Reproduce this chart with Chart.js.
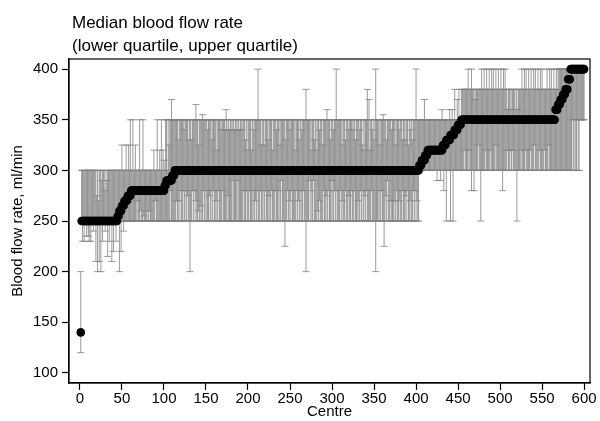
<!DOCTYPE html>
<html>
<head>
<meta charset="utf-8">
<script src="https://cdn.jsdelivr.net/npm/chart.js@4/dist/chart.umd.min.js"></script>
<style>
  body { margin: 0; background: #fff; }
  #wrap { position: relative; width: 600px; height: 421px; }
  #titulo {
    position: absolute; left: 72px; top: 11px;
    font: 17px "Liberation Sans", Arial, sans-serif; line-height: 23px; color: #000;
  }
</style>
</head>
<body>
<div id="wrap">
  <canvas id="grafico"></canvas>
  <div id="titulo">Median blood flow rate<br>(lower quartile, upper quartile)</div>
</div>
<script>
// Centros ordenados por mediana (1..600)
var numCentros = 600;

// Mediana: pares [valor, número de centros consecutivos]
var medianaTramos = [
  [140, 1], [250, 43],
  [255, 2], [260, 3], [265, 3], [270, 4], [275, 4],
  [280, 40],
  [285, 2], [290, 7], [295, 3],
  [300, 291],
  [305, 3], [310, 4], [315, 3],
  [320, 18],
  [325, 4], [330, 5], [335, 5], [340, 4], [345, 4],
  [350, 112],
  [360, 3], [365, 3], [370, 3], [375, 3], [380, 3], [390, 3],
  [400, 17]
];

// Cuartil inferior / superior: tramos base
var inferiorTramos = [[120, 1], [250, 402], [300, 197]];
var superiorTramos = [[200, 1], [300, 100], [350, 352], [380, 112], [400, 35]];

// Excepciones: [centro, valor]
var inferiorExcepciones = [
  [3,230],[5,230],[8,235],[10,235],[11,230],[13,230],[16,240],[19,210],[21,200],[23,210],
  [25,200],[27,230],[30,240],[33,215],[35,230],[38,210],[40,220],[43,230],[47,200],[49,220],
  [52,240],[68,270],[72,260],[76,255],[80,260],[83,260],[90,270],[108,280],
  [115,270],[118,270],[120,280],[123,280],[126,280],[128,275],[131,200],[134,280],[136,280],
  [138,270],[141,260],[144,265],[147,280],[150,280],[154,275],[157,280],[159,280],[162,270],
  [165,280],[170,280],[176,275],[182,290],[188,290],[195,280],[198,280],[202,280],[206,280],
  [209,270],[211,280],[215,280],[218,280],[221,280],[225,275],[228,280],[233,280],[237,280],
  [240,290],[244,225],[247,280],[250,270],[252,280],[258,280],[260,270],[263,280],[266,280],
  [269,200],[273,290],[275,280],[278,290],[283,260],[285,270],[290,280],[293,275],[296,280],
  [300,290],[303,280],[305,280],[310,280],[312,270],[316,280],[320,275],[323,280],[327,280],
  [331,270],[334,280],[336,280],[339,275],[341,280],[347,280],[352,200],[356,280],[359,280],
  [362,225],[364,275],[366,290],[370,270],[374,270],[377,280],[380,270],[384,280],[388,275],
  [390,280],[393,270],[397,280],[399,280],[401,270],
  [425,290],[429,290],[433,280],[436,250],[441,250],[444,250],
  [458,320],[463,320],[466,280],[469,280],[474,325],[477,250],[483,320],[489,320],[495,325],
  [503,280],[509,320],[512,320],[515,320],[520,250],[525,320],[530,320],[536,320],[541,325],
  [547,320],[553,320],[558,325],
  [586,350],[589,350],[592,350],[595,350],[596,350],[597,350],[598,350],[599,350],[600,350]
];
var superiorExcepciones = [
  [20,275],[22,270],[26,290],[30,280],[32,290],
  [50,325],[55,325],[58,325],[60,350],[63,350],[66,325],[71,350],[75,350],[88,320],[92,350],
  [95,320],[97,350],[99,320],[100,310],
  [101,300],[104,300],[106,325],[109,370],
  [117,330],[124,340],[129,330],[133,330],[138,365],[141,325],[146,355],[152,340],[157,330],
  [163,320],[168,340],[173,340],[174,360],[176,340],[178,340],[181,340],[184,340],[187,340],
  [190,340],[193,340],[197,330],[199,320],[204,320],[207,340],[212,400],[216,325],[220,325],
  [224,330],[229,320],[234,340],[238,325],[245,330],[250,340],[256,320],[261,330],[264,340],
  [269,380],[275,320],[279,330],[282,320],[285,340],[289,325],[294,360],[298,330],[302,340],
  [305,400],[312,325],[316,330],[320,340],[325,340],[328,330],[333,340],[336,325],[338,320],
  [342,380],[344,370],[345,320],[348,340],[350,330],[352,400],[357,325],[361,355],[365,330],
  [371,340],[376,325],[380,340],[384,330],[387,330],[391,325],[393,340],[396,330],[400,400],
  [410,370],[431,360],[440,360],[443,360],[446,380],[449,370],[451,380],
  [462,400],[466,400],[470,370],[478,400],[481,400],[484,400],[487,400],[490,400],[492,400],
  [495,400],[498,400],[501,400],[504,400],[506,400],[509,360],[513,360],[518,360],[521,360],
  [526,400],[529,400],[531,400],[534,400],[537,400],[540,400],[542,400],[545,400],[548,400],
  [550,400],[556,400],[559,400],[561,400],[564,400],
  [566,380],[568,380]
];

var marcasX = [0, 50, 100, 150, 200, 250, 300, 350, 400, 450, 500, 550, 600];
var marcasY = [100, 150, 200, 250, 300, 350, 400];

// Expande tramos a un valor por centro
function expandir(tramos) {
  var r = [];
  tramos.forEach(function (t) { for (var k = 0; k < t[1]; k++) r.push(t[0]); });
  return r.slice(0, numCentros);
}
function aplicar(valores, excepciones) {
  excepciones.forEach(function (e) { valores[e[0] - 1] = e[1]; });
  return valores;
}

var centros = [];
for (var i = 1; i <= numCentros; i++) centros.push(i);
var mediana = expandir(medianaTramos);
var cuartilInf = aplicar(expandir(inferiorTramos), inferiorExcepciones);
var cuartilSup = aplicar(expandir(superiorTramos), superiorExcepciones);

var fuente = { family: '"Liberation Sans", Arial, sans-serif', size: 15 };

// Barras de error (cuartiles) dibujadas con las escalas del gráfico
var barrasError = {
  id: 'barrasError',
  beforeDatasetsDraw: function (chart) {
    var ctx = chart.ctx, x = chart.scales.x, y = chart.scales.y;
    ctx.save();
    ctx.strokeStyle = 'rgb(128,128,128)';
    ctx.lineWidth = 0.8;
    ctx.beginPath();
    for (var i = 0; i < centros.length; i++) {
      var px = x.getPixelForValue(centros[i]);
      var lo = y.getPixelForValue(cuartilInf[i]);
      var hi = y.getPixelForValue(cuartilSup[i]);
      ctx.moveTo(px, lo); ctx.lineTo(px, hi);
      ctx.moveTo(px - 3.5, lo); ctx.lineTo(px + 3.5, lo);
      ctx.moveTo(px - 3.5, hi); ctx.lineTo(px + 3.5, hi);
    }
    ctx.stroke();
    ctx.restore();
  }
};

// Marco alrededor del área del gráfico
var marco = {
  id: 'marco',
  afterDraw: function (chart) {
    var a = chart.chartArea, ctx = chart.ctx;
    ctx.save();
    ctx.strokeStyle = '#000';
    ctx.lineWidth = 1.2;
    ctx.strokeRect(a.left, a.top, a.right - a.left, a.bottom - a.top);
    ctx.restore();
  }
};

var ctx = document.getElementById('grafico').getContext('2d');
var grafico = new Chart(ctx, {
  type: 'scatter',
  data: {
    datasets: [{
      label: 'Median',
      data: centros.map(function (c, i) { return { x: c, y: mediana[i] }; }),
      pointRadius: 4.3,
      pointHoverRadius: 4.3,
      backgroundColor: '#000',
      borderWidth: 0
    }]
  },
  options: {
    responsive: true,
    maintainAspectRatio: false,
    animation: false,
    layout: { padding: { top: 59, right: 10, bottom: 0, left: 0 } },
    plugins: { legend: { display: false }, tooltip: { enabled: false } },
    scales: {
      x: {
        type: 'linear',
        min: -13, max: 607,
        afterBuildTicks: function (s) { s.ticks = marcasX.map(function (v) { return { value: v }; }); },
        afterFit: function (s) { s.height = 38; },
        ticks: { color: '#000', font: fuente, padding: 0, maxRotation: 0 },
        grid: { drawOnChartArea: false, tickLength: 7, color: '#000', tickWidth: 1.2 },
        border: { color: '#000', width: 1.2 },
        title: { display: true, text: 'Centre', color: '#000', font: fuente, padding: { top: 0, bottom: 0 } }
      },
      y: {
        min: 90, max: 410,
        afterBuildTicks: function (s) { s.ticks = marcasY.map(function (v) { return { value: v }; }); },
        afterFit: function (s) { s.width = 69; },
        ticks: { color: '#000', font: fuente, padding: 4 },
        grid: { drawOnChartArea: false, tickLength: 7, color: '#000', tickWidth: 1.2 },
        border: { color: '#000', width: 1.2 },
        title: { display: true, text: 'Blood flow rate, ml/min', color: '#000', font: fuente, padding: { top: 9, bottom: 0 } }
      }
    }
  },
  plugins: [barrasError, marco]
});
</script>
</body>
</html>
